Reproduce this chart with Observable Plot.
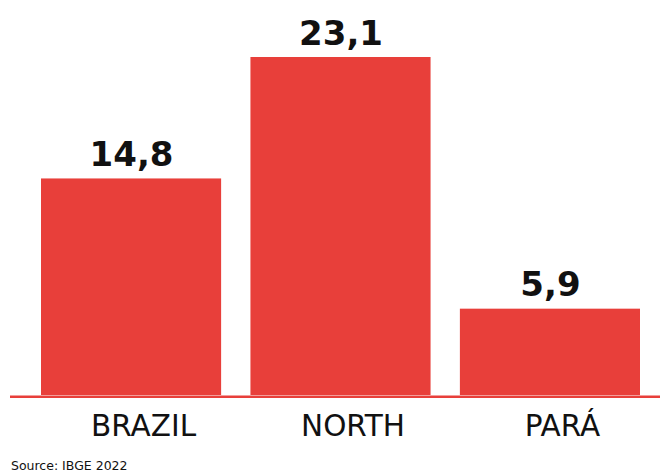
<!DOCTYPE html>
<html>
<head>
<meta charset="utf-8">
<script src="https://cdn.jsdelivr.net/npm/d3@7"></script>
<script src="https://cdn.jsdelivr.net/npm/@observablehq/plot@0.6"></script>
<style>
  html, body { margin: 0; padding: 0; background: #fff; }
  #wrap { position: relative; width: 660px; height: 475px; }
  #source { position: absolute; left: 11px; top: 458px; font-family: "DejaVu Sans", sans-serif; font-size: 12.5px; line-height: 16px; color: #111; }
</style>
</head>
<body>
<div id="wrap">
  <div id="chart"></div>
  <div id="source">Source: IBGE 2022</div>
</div>
<script>
const categories = ["BRAZIL", "NORTH", "PARÁ"];
const values = [14.8, 23.1, 5.9];
const valueLabels = ["14,8", "23,1", "5,9"];

const data = categories.map((c, i) => ({category: c, value: values[i], label: valueLabels[i]}));
const red = "#e83f3a";

const chart = Plot.plot({
  width: 660,
  height: 450,
  marginTop: 57,
  marginBottom: 55,
  marginLeft: 41,
  marginRight: 20,
  x: {domain: categories, paddingInner: 0.14, paddingOuter: 0, axis: null, round: false},
  y: {domain: [0, d3.max(values)], axis: null},
  marks: [
    Plot.barY(data, {x: "category", y: "value", fill: red}),
    Plot.ruleY([0], {stroke: red, strokeWidth: 2.5, dy: 1.2, insetLeft: -31, insetRight: -20}),
    Plot.text(data, {x: "category", y: "value", text: "label", lineAnchor: "bottom", dy: -13,
      fontFamily: "DejaVu Sans", fontWeight: "bold", fontSize: 34, fill: "#111"}),
    Plot.text(data, {x: "category", y: () => 0, text: "category", lineAnchor: "top", dy: 20, dx: 12,
      fontFamily: "DejaVu Sans", fontSize: 29.5, fill: "#111"})
  ]
});
document.getElementById("chart").appendChild(chart);
</script>
</body>
</html>
